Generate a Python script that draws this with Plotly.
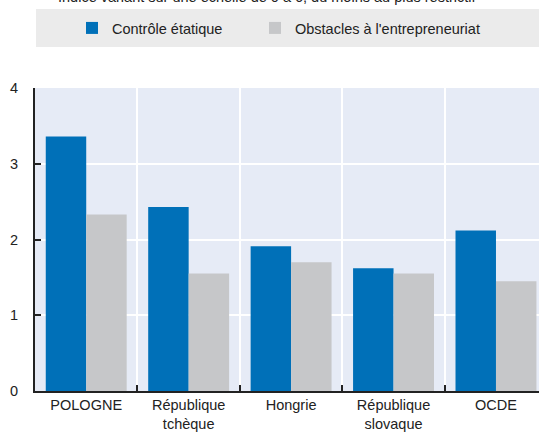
import plotly.graph_objects as go

categories = ["POLOGNE", "République<br>tchèque", "Hongrie", "République<br>slovaque", "OCDE"]
controle_etatique = [3.36, 2.43, 1.91, 1.62, 2.12]
obstacles_entrepreneuriat = [2.33, 1.55, 1.70, 1.55, 1.45]
series_names = ["Contrôle étatique", "Obstacles à l'entrepreneuriat"]
y_ticks = [0, 1, 2, 3, 4]
subtitle = "Indice variant sur une échelle de 0 à 6, du moins au plus restrictif"

FONT = "Liberation Sans, Arial, sans-serif"
BLUE = "#0070B8"
GREY = "#C6C7C9"
TXT = "#222222"

fig = go.Figure()
fig.add_trace(go.Bar(x=categories, y=controle_etatique, name=series_names[0],
                     marker=dict(color=BLUE, line=dict(width=0)), legend="legend",
                     showlegend=True))
fig.add_trace(go.Bar(x=categories, y=obstacles_entrepreneuriat, name=series_names[1],
                     marker=dict(color=GREY, line=dict(width=0)), legend="legend2",
                     showlegend=True))

leg_common = dict(orientation="h", xanchor="left", y=1.198, yanchor="middle",
                  bgcolor="rgba(0,0,0,0)", font=dict(size=14.5, color=TXT), itemwidth=30,
                  visible=True)

fig.update_layout(
    width=539, height=433,
    margin=dict(l=35, r=0, t=88, b=42),
    paper_bgcolor="white",
    plot_bgcolor="#E6EBF6",
    barmode="group",
    bargap=0.21,
    bargroupgap=0,
    showlegend=True,
    font=dict(family=FONT, size=14.5, color=TXT),
    legend=dict(x=0.0734, **leg_common),
    legend2=dict(x=0.4365, **leg_common),
    shapes=[dict(type="rect", xref="paper", yref="paper", x0=0.002, x1=1.01,
                 y0=1.135, y1=1.261, fillcolor="#EBEBEB", line=dict(width=0), layer="below")],
    annotations=[dict(text=subtitle, xref="paper", yref="paper", x=0.46, y=1.266,
                      xanchor="center", yanchor="bottom", showarrow=False,
                      font=dict(size=14.5, color=TXT))],
)

fig.update_xaxes(
    range=[-0.5, 4.42],
    tickson="boundaries",
    showgrid=True, gridcolor="white", gridwidth=2,
    ticks="inside", ticklen=6, tickcolor=TXT, tickwidth=2,
    showline=True, linecolor=TXT, linewidth=2,
    tickfont=dict(size=14.5, color=TXT),
    fixedrange=True,
)
fig.update_yaxes(
    range=[0, 4], tickvals=y_ticks,
    showgrid=True, gridcolor="white", gridwidth=2,
    ticks="inside", ticklen=6, tickcolor=TXT, tickwidth=2,
    showline=True, linecolor=TXT, linewidth=2,
    ticklabelstandoff=12,
    tickfont=dict(size=14.5, color=TXT),
    zeroline=False,
)

fig.write_html("out.html", config={"displayModeBar": False},
               post_script="document.body.style.margin='0';")
